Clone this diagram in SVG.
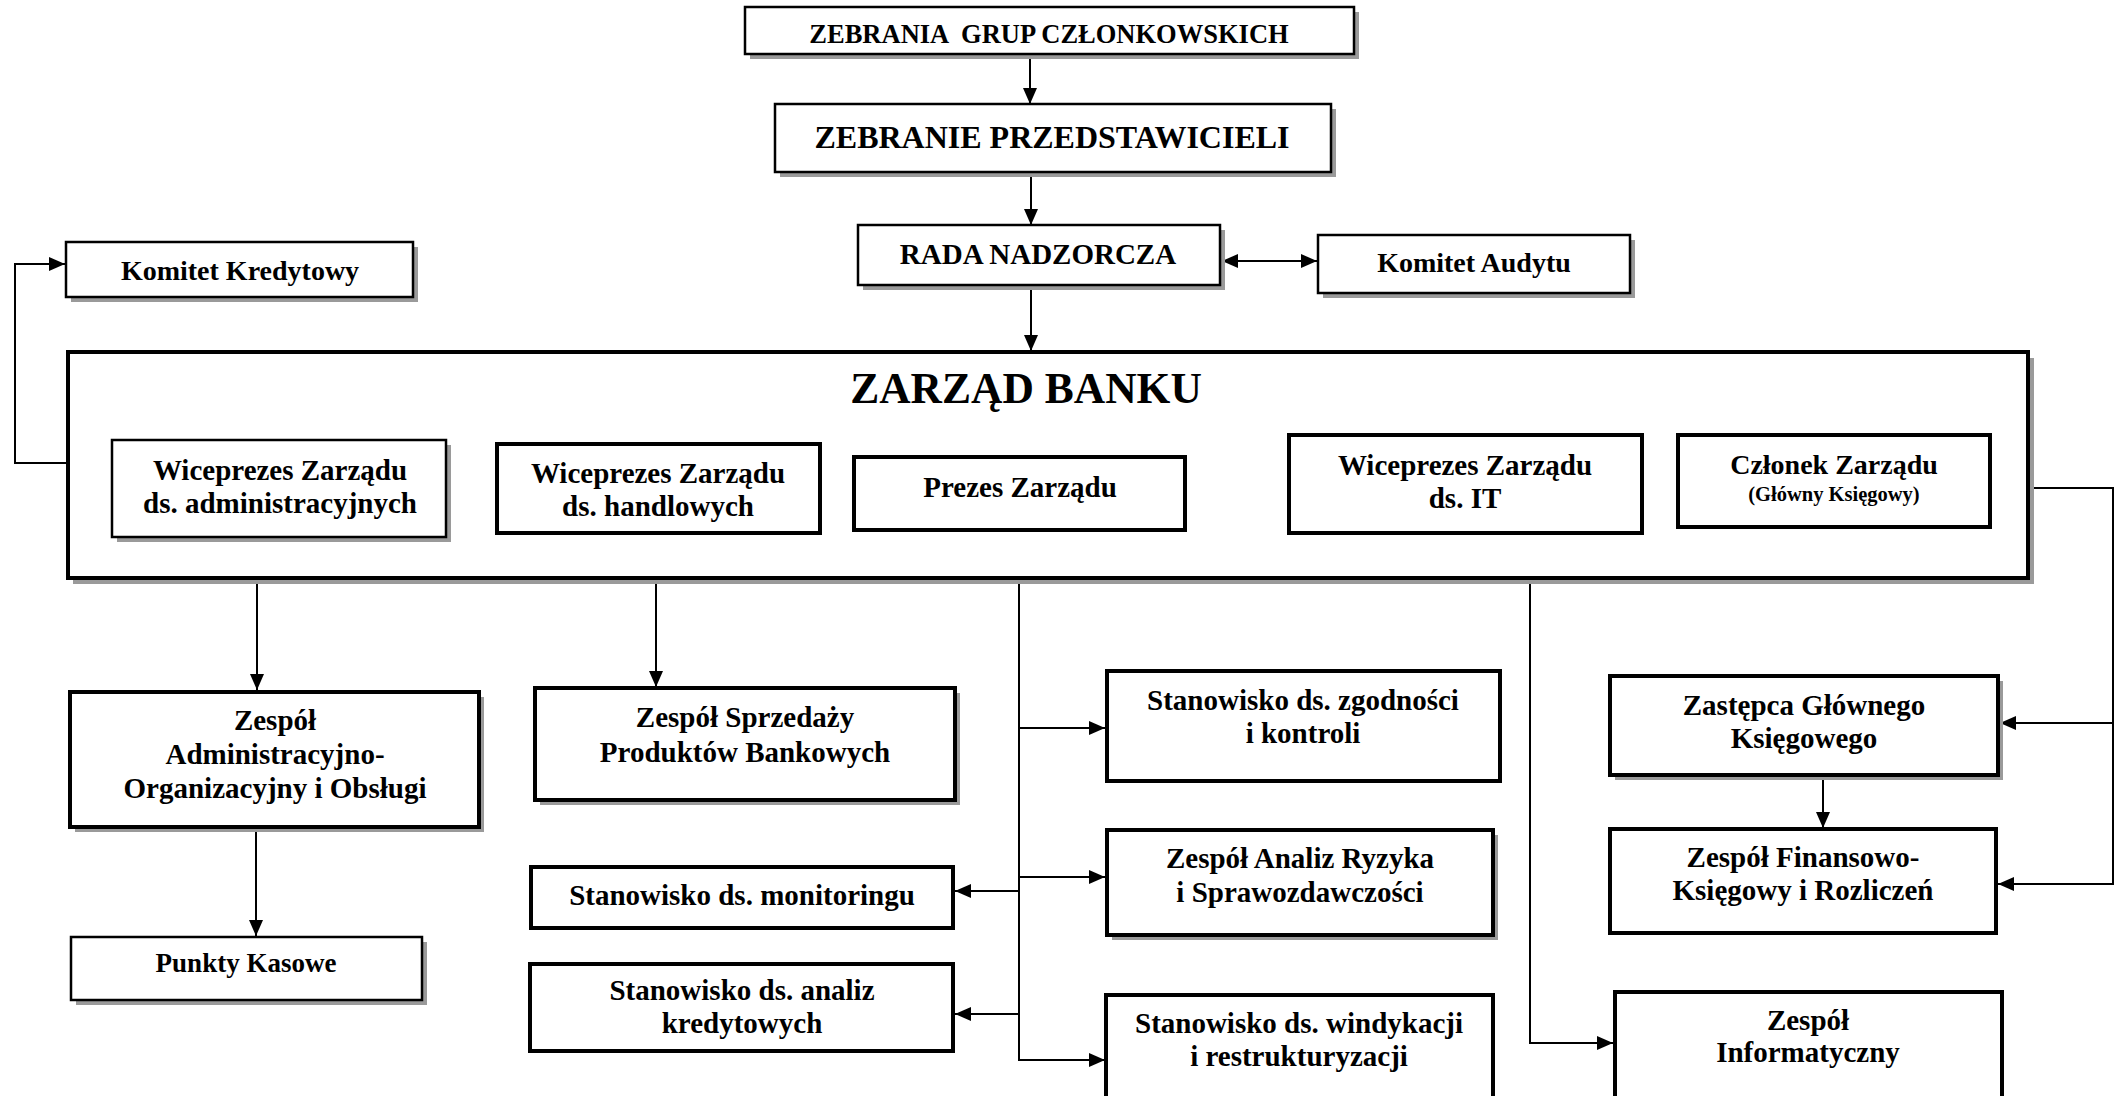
<svg xmlns="http://www.w3.org/2000/svg" width="2116" height="1096" viewBox="0 0 2116 1096">
<style>
.box{fill:#fff;stroke:#000;stroke-width:2.5}
.thick{stroke-width:4}
.sh{fill:#9a9a9a}
text{font-family:"Liberation Serif","Times New Roman",serif;font-weight:bold;text-anchor:middle;fill:#000;font-size:29px}
text.f20{font-size:20.5px}
text.f26{font-size:26.5px}
text.f27{font-size:27px}
text.f28{font-size:28px}
text.f31{font-size:32px}
text.f43{font-size:43.5px}
.conn{fill:none;stroke:#000;stroke-width:2}
</style>
<defs>
<marker id="ah" markerUnits="userSpaceOnUse" markerWidth="18" markerHeight="14" refX="16" refY="7" orient="auto-start-reverse">
<path d="M0,0 L16,7 L0,14 z" fill="#000"/>
</marker>
</defs>
<rect width="2116" height="1096" fill="#fff"/>

<g id="connectors">
<path class="conn" d="M1030,54 V104" marker-end="url(#ah)"/>
<path class="conn" d="M1031,172 V225" marker-end="url(#ah)"/>
<path class="conn" d="M1031,285 V351" marker-end="url(#ah)"/>
<path class="conn" d="M1222,261 H1317" marker-start="url(#ah)" marker-end="url(#ah)"/>
<path class="conn" d="M67,463 H15 V264 H65" marker-end="url(#ah)"/>
<path class="conn" d="M257,537 V690" marker-end="url(#ah)"/>
<path class="conn" d="M256,827 V936" marker-end="url(#ah)"/>
<path class="conn" d="M656,533 V687" marker-end="url(#ah)"/>
<path class="conn" d="M1019,530 V1060 H1105" marker-end="url(#ah)"/>
<path class="conn" d="M1019,728 H1105" marker-end="url(#ah)"/>
<path class="conn" d="M1019,877 H1105" marker-end="url(#ah)"/>
<path class="conn" d="M1019,891 H955" marker-end="url(#ah)"/>
<path class="conn" d="M1019,1014 H955" marker-end="url(#ah)"/>
<path class="conn" d="M1530,533 V1043 H1613" marker-end="url(#ah)"/>
<path class="conn" d="M1990,488 H2113 V884 H1998" marker-end="url(#ah)"/>
<path class="conn" d="M2113,723 H2000" marker-end="url(#ah)"/>
<path class="conn" d="M1823,775 V828" marker-end="url(#ah)"/>
</g>

<g id="zebrania-grup">
<rect class="sh" x="750" y="12" width="609" height="47"/>
<rect class="box" x="745" y="7" width="609" height="47"/>
<text class="f26" x="1049" y="43" xml:space="preserve">ZEBRANIA  GRUP CZŁONKOWSKICH</text>
</g>

<g id="zebranie-przedstawicieli">
<rect class="sh" x="780" y="109" width="556" height="68"/>
<rect class="box" x="775" y="104" width="556" height="68"/>
<text class="f31" x="1052" y="148">ZEBRANIE PRZEDSTAWICIELI</text>
</g>

<g id="rada-nadzorcza">
<rect class="sh" x="863" y="230" width="362" height="60"/>
<rect class="box" x="858" y="225" width="362" height="60"/>
<text x="1038" y="264">RADA NADZORCZA</text>
</g>

<g id="komitet-audytu">
<rect class="sh" x="1323" y="240" width="312" height="58"/>
<rect class="box" x="1318" y="235" width="312" height="58"/>
<text class="f28" x="1474" y="272">Komitet Audytu</text>
</g>

<g id="komitet-kredytowy">
<rect class="sh" x="71" y="247" width="347" height="55"/>
<rect class="box" x="66" y="242" width="347" height="55"/>
<text class="f28" x="240" y="280">Komitet Kredytowy</text>
</g>

<g id="zarzad-banku">
<rect class="sh" x="73" y="358" width="1961" height="226"/>
<rect class="box thick" x="68" y="352" width="1960" height="226"/>
<text class="f43" x="1026" y="403">ZARZĄD BANKU</text>
</g>

<g id="wiceprezes-admin">
<rect class="sh" x="117" y="445" width="334" height="97"/>
<rect class="box" x="112" y="440" width="334" height="97"/>
<text x="280" y="480">Wiceprezes Zarządu</text>
<text x="280" y="513">ds. administracyjnych</text>
</g>

<g id="wiceprezes-handlowe">
<rect class="box thick" x="497" y="444" width="323" height="89"/>
<text x="658" y="483">Wiceprezes Zarządu</text>
<text x="658" y="516">ds. handlowych</text>
</g>

<g id="prezes">
<rect class="box thick" x="854" y="457" width="331" height="73"/>
<text x="1020" y="497">Prezes Zarządu</text>
</g>

<g id="wiceprezes-it">
<rect class="box thick" x="1289" y="435" width="353" height="98"/>
<text x="1465" y="475">Wiceprezes Zarządu</text>
<text x="1465" y="508">ds. IT</text>
</g>

<g id="czlonek-zarzadu">
<rect class="box thick" x="1678" y="435" width="312" height="92"/>
<text class="f28" x="1834" y="474">Członek Zarządu</text>
<text class="f20" x="1834" y="501">(Główny Księgowy)</text>
</g>

<g id="zespol-admin">
<rect class="sh" x="75" y="697" width="409" height="135"/>
<rect class="box thick" x="70" y="692" width="409" height="135"/>
<text x="275" y="730">Zespół</text>
<text x="275" y="764">Administracyjno-</text>
<text x="275" y="798">Organizacyjny i Obsługi</text>
</g>

<g id="punkty-kasowe">
<rect class="sh" x="76" y="942" width="351" height="63"/>
<rect class="box" x="71" y="937" width="351" height="63"/>
<text class="f27" x="246" y="972">Punkty Kasowe</text>
</g>

<g id="zespol-sprzedazy">
<rect class="sh" x="540" y="693" width="420" height="112"/>
<rect class="box thick" x="535" y="688" width="420" height="112"/>
<text x="745" y="727">Zespół Sprzedaży</text>
<text x="745" y="762">Produktów Bankowych</text>
</g>

<g id="stanowisko-monitoringu">
<rect class="box thick" x="531" y="867" width="422" height="61"/>
<text x="742" y="905">Stanowisko ds. monitoringu</text>
</g>

<g id="stanowisko-analiz">
<rect class="box thick" x="530" y="964" width="423" height="87"/>
<text x="742" y="1000">Stanowisko ds. analiz</text>
<text x="742" y="1033">kredytowych</text>
</g>

<g id="stanowisko-zgodnosci">
<rect class="box thick" x="1107" y="671" width="393" height="110"/>
<text x="1303" y="710">Stanowisko ds. zgodności</text>
<text x="1303" y="743">i kontroli</text>
</g>

<g id="zespol-analiz-ryzyka">
<rect class="sh" x="1112" y="835" width="386" height="105"/>
<rect class="box thick" x="1107" y="830" width="386" height="105"/>
<text x="1300" y="868">Zespół Analiz Ryzyka</text>
<text x="1300" y="902">i Sprawozdawczości</text>
</g>

<g id="stanowisko-windykacji">
<rect class="box thick" x="1106" y="995" width="387" height="110"/>
<text x="1299" y="1033">Stanowisko ds. windykacji</text>
<text x="1299" y="1066">i restrukturyzacji</text>
</g>

<g id="zastepca-gk">
<rect class="sh" x="1615" y="681" width="388" height="99"/>
<rect class="box thick" x="1610" y="676" width="388" height="99"/>
<text x="1804" y="715">Zastępca Głównego</text>
<text x="1804" y="748">Księgowego</text>
</g>

<g id="zespol-finansowo">
<rect class="box thick" x="1610" y="829" width="386" height="104"/>
<text x="1803" y="867">Zespół Finansowo-</text>
<text x="1803" y="900">Księgowy i Rozliczeń</text>
</g>

<g id="zespol-informatyczny">
<rect class="box thick" x="1615" y="992" width="387" height="115"/>
<text x="1808" y="1030">Zespół</text>
<text x="1808" y="1062">Informatyczny</text>
</g>
</svg>
